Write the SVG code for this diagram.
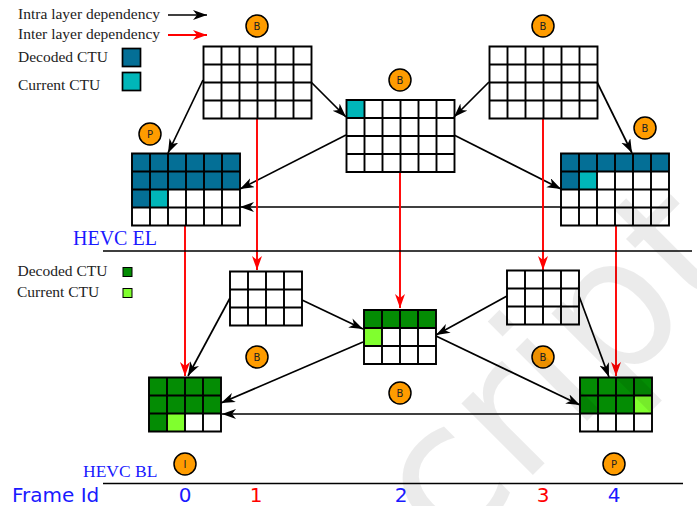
<svg xmlns="http://www.w3.org/2000/svg" width="697" height="506" viewBox="0 0 697 506">
<style>
.s{font-family:"Liberation Serif",serif;fill:#222;font-size:15.5px}
.h{font-family:"Liberation Serif",serif;fill:#1a1aff}
.f{font-family:"DejaVu Sans",sans-serif;font-size:20px;text-anchor:middle}
.grid{fill:none;stroke:#000;stroke-width:1.9}
.b{stroke:#000;stroke-width:1.7;fill:none;marker-end:url(#ab)}
.r{stroke:#f00;stroke-width:1.9;fill:none;marker-end:url(#ar)}
.d{fill:#046f96}.c{fill:#00b6b9}.gd{fill:#048c04}.gc{fill:#80ff2e}
.o{fill:#ff9c00;stroke:#000;stroke-width:1.5}
.l{font-family:"DejaVu Sans",sans-serif;font-size:10px;text-anchor:middle;fill:#222}
.wm{font-family:"DejaVu Sans",sans-serif;font-size:185px;fill:#000;fill-opacity:.08}
</style>
<defs>
<marker id="ab" markerUnits="userSpaceOnUse" markerWidth="16" markerHeight="12" refX="14" refY="5" orient="auto"><path d="M0,0L14,5L0,10L4,5Z" fill="#000"/></marker>
<marker id="ar" markerUnits="userSpaceOnUse" markerWidth="16" markerHeight="12" refX="14" refY="5" orient="auto"><path d="M0,0L14,5L0,10L4,5Z" fill="#f00"/></marker>
<path id="g6" class="grid" d="M.5,.5H108.5V72.5H.5ZM18.5,.5V72.5M36.5,.5V72.5M54.5,.5V72.5M72.5,.5V72.5M90.5,.5V72.5M.5,18.5H108.5M.5,36.5H108.5M.5,54.5H108.5"/>
<path id="g4" class="grid" d="M.5,.5H72.5V54.5H.5ZM18.5,.5V54.5M36.5,.5V54.5M54.5,.5V54.5M.5,18.5H72.5M.5,36.5H72.5"/>
</defs>
<rect width="697" height="506" fill="#fff"/>
<g id="legend">
<text class="s" x="18" y="19">Intra layer dependency</text>
<text class="s" x="18" y="39">Inter layer dependency</text>
<text class="s" x="18" y="62">Decoded CTU</text>
<text class="s" x="18" y="90">Current CTU</text>
<rect class="d" x="122.5" y="48.5" width="18" height="18" stroke="#000" stroke-width="1.7"/>
<rect class="c" x="122.5" y="72.5" width="18" height="18" stroke="#000" stroke-width="1.7"/>
<text class="s" x="17.5" y="276">Decoded CTU</text>
<text class="s" x="17" y="297">Current CTU</text>
<rect class="gd" x="123" y="267.5" width="9" height="9" stroke="#000"/>
<rect class="gc" x="123" y="288.5" width="9" height="9" stroke="#000"/>
</g>
<g id="connectors">
<path class="b" d="M168,15H207"/>
<path class="r" d="M168,35H207"/>
<path class="b" d="M203,80L168,153"/>
<path class="b" d="M311,82L346,117"/>
<path class="b" d="M489,82L454,117"/>
<path class="b" d="M597,82L632,153"/>
<path class="b" d="M346,135L240,189"/>
<path class="b" d="M454,135L561,189"/>
<path class="b" d="M561,207H240"/>
<path class="r" d="M257,118V270"/>
<path class="r" d="M185,225V376"/>
<path class="r" d="M400,171V308"/>
<path class="r" d="M543,118V270"/>
<path class="r" d="M616,225V376"/>
<path class="b" d="M230,298L188,376"/>
<path class="b" d="M302,300L363,329"/>
<path class="b" d="M363,342L221,403"/>
<path class="b" d="M507,296L436,335"/>
<path class="b" d="M436,336L580,405"/>
<path class="b" d="M579,296L609,377"/>
<path class="b" d="M580,414H222"/>
<path d="M103,251H692M103,483.5H683" stroke="#000" stroke-width="1.7" fill="none"/>
</g>
<g id="frame-el0" transform="translate(131.5,153)">
<path class="d" d="M0,0H108V36H36V54H0Z"/><rect class="c" x="18" y="36" width="18" height="18"/><use href="#g6"/></g>
<g id="frame-el1" transform="translate(203,46)"><use href="#g6"/></g>
<g id="frame-el2" transform="translate(346,99.5)"><rect class="c" width="18" height="18"/><use href="#g6"/></g>
<g id="frame-el3" transform="translate(489,46)"><use href="#g6"/></g>
<g id="frame-el4" transform="translate(560.5,153)">
<path class="d" d="M0,0H108V18H18V36H0Z"/><rect class="c" x="18" y="18" width="18" height="18"/><use href="#g6"/></g>
<g id="frame-bl0" transform="translate(148.5,377)">
<path class="gd" d="M0,0H72V36H18V54H0Z"/><rect class="gc" x="18" y="36" width="18" height="18"/><use href="#g4"/></g>
<g id="frame-bl1" transform="translate(229.5,271)"><use href="#g4"/></g>
<g id="frame-bl2" transform="translate(363.5,309.5)">
<rect class="gd" width="72" height="18"/><rect class="gc" y="18" width="18" height="18"/><use href="#g4"/></g>
<g id="frame-bl3" transform="translate(506.5,270)"><use href="#g4"/></g>
<g id="frame-bl4" transform="translate(579.5,377)">
<rect class="gd" width="72" height="36"/><rect class="gc" x="54" y="18" width="18" height="18"/><use href="#g4"/></g>
<g id="badge-b1"><circle class="o" cx="257" cy="26" r="11"/><text class="l" x="257" y="30">B</text></g>
<g id="badge-p0"><circle class="o" cx="150" cy="134" r="11"/><text class="l" x="150" y="138">P</text></g>
<g id="badge-b2"><circle class="o" cx="400" cy="80" r="11"/><text class="l" x="400" y="84">B</text></g>
<g id="badge-b3"><circle class="o" cx="543" cy="26" r="11"/><text class="l" x="543" y="30">B</text></g>
<g id="badge-b4"><circle class="o" cx="645" cy="128" r="11"/><text class="l" x="645" y="132">B</text></g>
<g id="badge-b5"><circle class="o" cx="257" cy="357" r="11"/><text class="l" x="257" y="361">B</text></g>
<g id="badge-b6"><circle class="o" cx="400" cy="393" r="11"/><text class="l" x="400" y="397">B</text></g>
<g id="badge-b7"><circle class="o" cx="543" cy="357" r="11"/><text class="l" x="543" y="361">B</text></g>
<g id="badge-i"><circle class="o" cx="185" cy="464" r="11"/><text class="l" x="185" y="468">I</text></g>
<g id="badge-p"><circle class="o" cx="614" cy="464" r="11"/><text class="l" x="614" y="468">P</text></g>
<g id="labels">
<text class="h" x="73" y="245" font-size="20">HEVC EL</text>
<text class="h" x="83" y="477" font-size="17.5">HEVC BL</text>
<text class="f" x="12" y="502" style="text-anchor:start" fill="#1a1aff">Frame Id</text>
<text class="f" x="185" y="502" fill="#1a1aff">0</text>
<text class="f" x="256" y="502" fill="#f00">1</text>
<text class="f" x="401" y="502" fill="#1a1aff">2</text>
<text class="f" x="543" y="502" fill="#f00">3</text>
<text class="f" x="614" y="502" fill="#1a1aff">4</text>
</g>
<text class="wm" transform="translate(449,559) rotate(-45)">cript</text>
</svg>
